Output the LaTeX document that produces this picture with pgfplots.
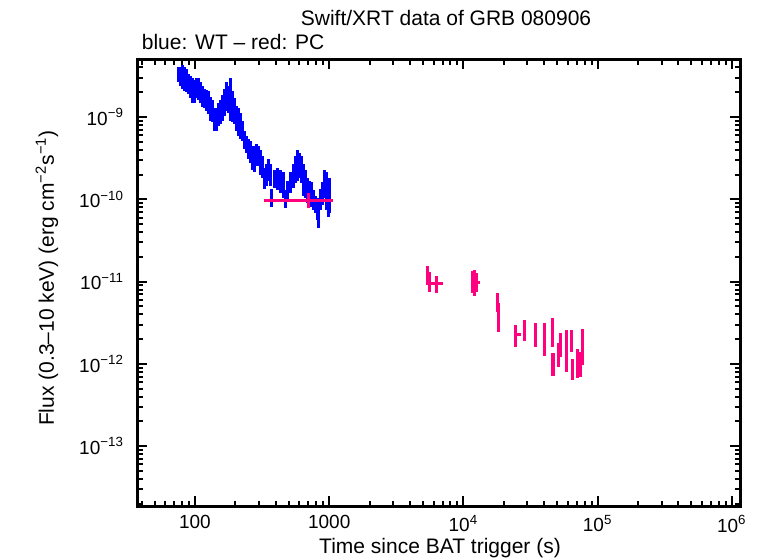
\documentclass[border=0pt]{standalone}
\usepackage{fontspec}
\setmainfont{Liberation Sans}
\usepackage{pgfplots}
\usepackage{pgfplotstable}
\pgfplotsset{compat=1.18}
\definecolor{wtblue}{RGB}{0,0,255}
\definecolor{pcred}{RGB}{255,0,127}

% WT mode (blue): time, flux, flux low, flux high
\pgfplotstableread{
t f lo hi
75.7 3.24e-9 2.63e-9 4.00e-9
78.4 3.15e-9 2.41e-9 4.11e-9
81.1 3.10e-9 2.22e-9 4.34e-9
83.9 2.94e-9 2.10e-9 4.11e-9
86.9 2.78e-9 1.99e-9 3.88e-9
89.9 2.55e-9 1.93e-9 3.38e-9
93.0 2.29e-9 1.68e-9 3.11e-9
96.3 2.07e-9 1.46e-9 2.94e-9
99.7 2.01e-9 1.46e-9 2.78e-9
103.1 2.25e-9 1.68e-9 3.02e-9
106.7 2.16e-9 1.59e-9 2.94e-9
110.5 1.96e-9 1.46e-9 2.63e-9
114.3 1.77e-9 1.34e-9 2.35e-9
118.3 1.68e-9 1.27e-9 2.22e-9
122.4 1.61e-9 1.20e-9 2.16e-9
126.7 1.52e-9 1.10e-9 2.10e-9
131.1 1.25e-9 9.07e-10 1.73e-9
135.7 1.17e-9 8.58e-10 1.59e-9
140.4 9.44e-10 6.85e-10 1.30e-9
145.3 9.33e-10 6.85e-10 1.27e-9
150.4 1.07e-9 7.67e-10 1.50e-9
155.7 1.15e-9 8.34e-10 1.59e-9
161.1 1.29e-9 9.07e-10 1.83e-9
166.8 1.52e-9 1.04e-9 2.22e-9
172.6 1.78e-9 1.20e-9 2.63e-9
178.6 1.65e-9 1.13e-9 2.41e-9
184.9 1.63e-9 9.07e-10 2.94e-9
191.3 1.36e-9 8.82e-10 2.10e-9
198.0 1.18e-9 8.34e-10 1.68e-9
204.9 9.72e-10 6.85e-10 1.38e-9
212.1 8.70e-10 5.96e-10 1.27e-9
219.5 7.87e-10 5.48e-10 1.13e-9
227.2 6.85e-10 5.18e-10 9.07e-10
235.1 5.33e-10 4.14e-10 6.85e-10
243.3 4.63e-10 3.70e-10 5.80e-10
251.8 4.14e-10 3.13e-10 5.48e-10
260.6 3.81e-10 2.80e-10 5.18e-10
269.7 3.17e-10 2.24e-10 4.50e-10
279.1 3.09e-10 2.12e-10 4.50e-10
288.9 3.50e-10 2.57e-10 4.76e-10
298.9 3.40e-10 2.57e-10 4.50e-10
309.4 2.76e-10 1.95e-10 3.92e-10
320.2 2.47e-10 1.79e-10 3.40e-10
331.4 1.81e-10 1.35e-10 2.43e-10
342.8 2.00e-10 1.47e-10 2.72e-10
354.8 2.30e-10 1.69e-10 3.13e-10
367.2 2.00e-10 1.47e-10 2.72e-10
373.5 1.02e-10 7.95e-11 1.32e-10
393.3 1.76e-10 1.39e-10 2.24e-10
414.0 1.76e-10 1.28e-10 2.43e-10
436.0 1.63e-10 1.18e-10 2.24e-10
458.9 1.49e-10 1.05e-10 2.12e-10
475.0 9.95e-11 7.73e-11 1.28e-10
491.5 1.28e-10 9.67e-11 1.69e-10
517.6 1.58e-10 1.18e-10 2.12e-10
544.9 1.94e-10 1.39e-10 2.72e-10
563.9 2.30e-10 1.56e-10 3.40e-10
583.6 2.57e-10 1.69e-10 3.92e-10
603.9 2.57e-10 1.79e-10 3.70e-10
625.0 2.30e-10 1.56e-10 3.40e-10
646.8 1.74e-10 1.11e-10 2.72e-10
669.3 1.53e-10 1.05e-10 2.24e-10
692.7 1.28e-10 9.14e-11 1.79e-10
716.9 1.19e-10 8.41e-11 1.69e-10
741.9 1.13e-10 7.95e-11 1.60e-10
767.8 9.67e-11 7.31e-11 1.28e-10
794.6 8.76e-11 6.91e-11 1.11e-10
822.6 7.62e-11 5.53e-11 1.05e-10
836.6 6.10e-11 4.42e-11 8.41e-11
865.8 9.93e-11 7.31e-11 1.35e-10
896.0 1.16e-10 8.41e-11 1.60e-10
927.3 1.53e-10 1.05e-10 2.24e-10
959.6 1.24e-10 7.31e-11 2.12e-10
993.1 9.14e-11 6.01e-11 1.39e-10
1010.4 1.11e-10 6.91e-11 1.79e-10
}\wtdata

% PC mode (red): time, time low, time high, flux, flux low, flux high
\pgfplotstableread{
t tlo thi f lo hi
704.7 325.6 1063 9.67e-11 7.73e-11 1.18e-10
5383 5330 5440 1.17e-11 8.97e-12 1.526e-11
5570 5520 5617 9.75e-12 7.37e-12 1.29e-11
6283 5617 7024 9.48e-12 7.17e-12 1.153e-11
11749 11549 12000 9.75e-12 7.17e-12 1.327e-11
12160 11900 12584 9.48e-12 6.59e-12 1.364e-11
12584 12300 13253 9.75e-12 7.37e-12 1.254e-11
17888 17600 18200 5.57e-12 4.21e-12 7.17e-12
18355 18100 18800 4.21e-12 2.41e-12 5.42e-12
24362 23749 27000 2.28e-12 1.58e-12 2.93e-12
28430 27800 29174 2.55e-12 1.92e-12 3.37e-12
34340 33800 35500 2.62e-12 1.58e-12 3.18e-12
40420 39700 41500 1.77e-12 1.26e-12 3.10e-12
45960 45300 46700 2.41e-12 1.58e-12 3.56e-12
46500 45800 48000 1.01e-12 7.03e-13 1.34e-12
51380 50600 52200 1.26e-12 9.04e-13 1.77e-12
53170 52400 54000 1.67e-12 1.20e-12 2.34e-12
58460 57600 59400 1.92e-12 7.86e-13 2.55e-12
63680 62800 64600 1.87e-12 1.38e-12 2.55e-12
64790 63900 65700 8.55e-13 6.28e-13 1.16e-12
70610 69600 71600 1.04e-12 6.65e-13 1.50e-12
74320 73300 75400 9.83e-13 6.84e-13 1.38e-12
76910 75800 78000 1.67e-12 9.56e-13 2.62e-12
}\pcdata

\begin{document}
\begin{tikzpicture}
\begin{axis}[
  name=ax,
  scale only axis,
  width=301.5pt, height=223.5pt,
  xmode=log, ymode=log,
  xmin=37, xmax=1.15e6,
  ymin=1.87e-14, ymax=5.07e-9,
  axis line style={line width=1.5pt},
  every tick/.style={black, line width=1pt},
  major tick length=5pt,
  minor tick length=2.75pt,
  tick align=inside,
  xtick={100,1000,1e4,1e5,1e6},
  xticklabels={100,1000,10\textsuperscript{4},10\textsuperscript{5},10\textsuperscript{6}},
  minor xtick={40,50,60,70,80,90,200,300,400,500,600,700,800,900,2000,3000,4000,5000,6000,7000,8000,9000,2e4,3e4,4e4,5e4,6e4,7e4,8e4,9e4,2e5,3e5,4e5,5e5,6e5,7e5,8e5,9e5},
  ytick={1e-13,1e-12,1e-11,1e-10,1e-9},
  yticklabels={10\textsuperscript{−13},10\textsuperscript{−12},10\textsuperscript{−11},10\textsuperscript{−10},10\textsuperscript{−9}},
  minor ytick={2e-14,3e-14,4e-14,5e-14,6e-14,7e-14,8e-14,9e-14,2e-13,3e-13,4e-13,5e-13,6e-13,7e-13,8e-13,9e-13,2e-12,3e-12,4e-12,5e-12,6e-12,7e-12,8e-12,9e-12,2e-11,3e-11,4e-11,5e-11,6e-11,7e-11,8e-11,9e-11,2e-10,3e-10,4e-10,5e-10,6e-10,7e-10,8e-10,9e-10,2e-9,3e-9,4e-9,5e-9},
  tick label style={font=\fontsize{9.5}{11}\selectfont},
  yticklabel style={xshift=-3pt},
  xticklabel style={yshift=-1pt},
]
\addplot[wtblue, only marks, mark=*, mark size=0pt, mark options={opacity=0},
  error bars/.cd, y dir=both, y explicit,
  error mark=none,
  error bar style={line width=1.5pt, draw=wtblue, opacity=1}]
  table[x=t, y=f,
    y error plus expr=\thisrow{hi}-\thisrow{f},
    y error minus expr=\thisrow{f}-\thisrow{lo}] {\wtdata};
\addplot[pcred, only marks, mark=*, mark size=0pt, mark options={opacity=0},
  error bars/.cd, y dir=both, y explicit, x dir=both, x explicit,
  error mark=none,
  error bar style={line width=1.6pt, draw=pcred, opacity=1}]
  table[x=t, y=f,
    x error plus expr=\thisrow{thi}-\thisrow{t},
    x error minus expr=\thisrow{t}-\thisrow{tlo},
    y error plus expr=\thisrow{hi}-\thisrow{f},
    y error minus expr=\thisrow{f}-\thisrow{lo}] {\pcdata};
\end{axis}
\node[anchor=base, inner sep=0pt, font=\fontsize{10.5}{12}\selectfont] at (154.5pt,240pt) {Swift/XRT data of GRB 080906};
\node[anchor=base west, inner sep=0pt, font=\fontsize{10.5}{12}\selectfont] at (2.25pt,228pt) {blue: WT – red: PC};
\node[anchor=base, inner sep=0pt, font=\fontsize{10.5}{12}\selectfont] at (151.5pt,-23.5pt) {Time since BAT trigger (s)};
\node[rotate=90, inner sep=0pt, font=\fontsize{10.5}{12}\selectfont] at (-45pt,114pt) {Flux (0.3–10 keV) (erg cm\textsuperscript{−2}s\textsuperscript{−1})};
\pgfresetboundingbox
\useasboundingbox (-68.5pt,-26pt) rectangle (313pt,253pt);
\end{tikzpicture}
\end{document}
